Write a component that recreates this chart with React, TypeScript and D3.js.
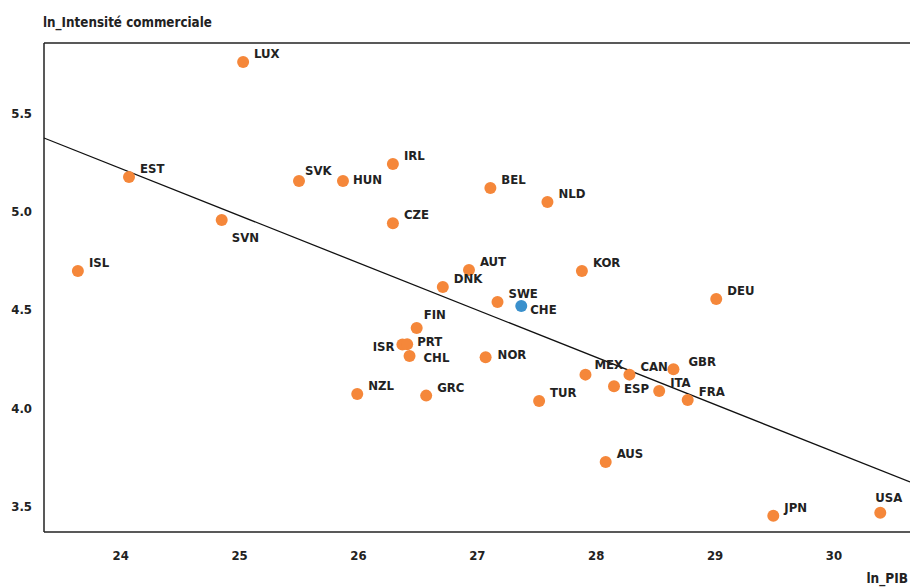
import React, { useEffect, useRef } from 'react';
import * as d3 from 'd3';

// country codes, ln_PIB and ln_Intensité commerciale
const codes = ['LUX', 'EST', 'ISL', 'SVN', 'SVK', 'HUN', 'IRL', 'CZE', 'BEL', 'NLD', 'AUT', 'DNK', 'SWE', 'CHE', 'KOR', 'DEU', 'FIN', 'ISR', 'PRT', 'CHL', 'NOR', 'NZL', 'GRC', 'TUR', 'MEX', 'CAN', 'GBR', 'ESP', 'ITA', 'FRA', 'AUS', 'JPN', 'USA'];
const lnPib = [25.03, 24.07, 23.64, 24.85, 25.50, 25.87, 26.29, 26.29, 27.11, 27.59, 26.93, 26.71, 27.17, 27.37, 27.88, 29.01, 26.49, 26.37, 26.41, 26.43, 27.07, 25.99, 26.57, 27.52, 27.91, 28.28, 28.65, 28.15, 28.53, 28.77, 28.08, 29.49, 30.39];
const lnIntensite = [5.761, 5.175, 4.696, 4.956, 5.155, 5.155, 5.241, 4.940, 5.119, 5.048, 4.701, 4.615, 4.538, 4.518, 4.696, 4.553, 4.406, 4.321, 4.323, 4.263, 4.256, 4.069, 4.061, 4.034, 4.168, 4.168, 4.195, 4.109, 4.085, 4.039, 3.723, 3.449, 3.464];
const highlight = ['CHE'];

const xTicks = [24, 25, 26, 27, 28, 29, 30];
const yTicks = [3.5, 4.0, 4.5, 5.0, 5.5];

// fitted line: y = a + b * x
const trendA = 10.993;
const trendB = -0.2406;

// label placement, [dx, dy, anchor]
const labelPos: Record<string, [number, number, string]> = {
  SVN: [10, 22, 'start'],
  ISR: [-8, 6, 'end'],
  CHL: [14, 6, 'start'],
  PRT: [10, 2, 'start'],
  HUN: [10, 3, 'start'],
  USA: [-5, -11, 'start'],
  FIN: [7, -9, 'start'],
  CHE: [9, 8, 'start'],
  ESP: [10, 7, 'start'],
  NOR: [12, 2, 'start'],
  SVK: [6, -6, 'start'],
  MEX: [9, -6, 'start'],
  GBR: [15, -3, 'start'],
};

const App = () => {
  const ref = useRef<SVGSVGElement>(null);

  useEffect(() => {
    const svg = d3.select(ref.current);
    svg.selectAll('*').remove();

    const W = 910, H = 588;
    const left = 44, right = 910, top = 43, bottom = 532;
    const font = '"DejaVu Sans Condensed", "DejaVu Sans", sans-serif';

    const x = d3.scaleLinear().domain([23.355, 30.64]).range([left, right]);
    const y = d3.scaleLinear().domain([3.366, 5.858]).range([bottom, top]);

    const data = codes.map((c, i) => ({ code: c, x: lnPib[i], y: lnIntensite[i] }));

    // frame
    svg.append('line').attr('x1', left).attr('x2', right).attr('y1', top).attr('y2', top)
      .attr('stroke', '#222').attr('stroke-width', 1.3);
    svg.append('line').attr('x1', left).attr('x2', right).attr('y1', bottom).attr('y2', bottom)
      .attr('stroke', '#222').attr('stroke-width', 1.5);
    svg.append('line').attr('x1', left).attr('x2', left).attr('y1', top).attr('y2', bottom)
      .attr('stroke', '#222').attr('stroke-width', 1.5);

    // tick labels
    svg.append('g').selectAll('text').data(xTicks).join('text')
      .attr('x', d => x(d)).attr('y', 560)
      .attr('text-anchor', 'middle')
      .attr('font-family', font).attr('font-weight', 'bold').attr('font-size', 13)
      .attr('fill', '#222')
      .text(d => d);
    svg.append('g').selectAll('text').data(yTicks).join('text')
      .attr('x', 32).attr('y', d => y(d) + 5)
      .attr('text-anchor', 'end')
      .attr('font-family', font).attr('font-weight', 'bold').attr('font-size', 13)
      .attr('fill', '#222')
      .text(d => d3.format('.1f')(d));

    // axis titles
    svg.append('text').attr('x', 43).attr('y', 27)
      .attr('font-family', font).attr('font-weight', 'bold').attr('font-size', 13.3)
      .attr('fill', '#222').text('ln_Intensité commerciale');
    svg.append('text').attr('x', 908).attr('y', 583).attr('text-anchor', 'end')
      .attr('font-family', font).attr('font-weight', 'bold').attr('font-size', 13.5)
      .attr('fill', '#222').text('ln_PIB');

    // trend line
    const [x0, x1] = x.domain();
    svg.append('line')
      .attr('x1', x(x0)).attr('y1', y(trendA + trendB * x0))
      .attr('x2', x(x1)).attr('y2', y(trendA + trendB * x1))
      .attr('stroke', '#111').attr('stroke-width', 1.3);

    // points
    svg.append('g').selectAll('circle').data(data).join('circle')
      .attr('cx', d => x(d.x)).attr('cy', d => y(d.y)).attr('r', 6)
      .attr('fill', d => highlight.includes(d.code) ? '#3A90CC' : '#F5873A');

    // labels
    svg.append('g').selectAll('text').data(data).join('text')
      .attr('x', d => x(d.x) + (labelPos[d.code] ? labelPos[d.code][0] : 11))
      .attr('y', d => y(d.y) + (labelPos[d.code] ? labelPos[d.code][1] : -4))
      .attr('text-anchor', d => labelPos[d.code] ? labelPos[d.code][2] : 'start')
      .attr('font-family', font).attr('font-weight', 'bold').attr('font-size', 13)
      .attr('fill', '#222')
      .text(d => d.code);

    svg.attr('width', W).attr('height', H);
  }, []);

  return (
    <svg ref={ref} width={910} height={588}
      style={{ position: 'absolute', left: 0, top: 0, background: '#fff' }} />
  );
};

export default App;
